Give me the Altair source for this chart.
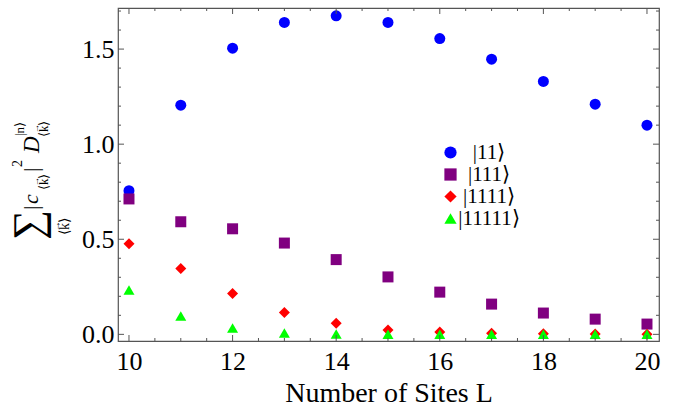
import altair as alt
import pandas as pd
import numpy as np

# ---- data ----
sites = [10, 11, 12, 13, 14, 15, 16, 17, 18, 19, 20]
s11 = [0.755, 1.205, 1.505, 1.64, 1.675, 1.64, 1.555, 1.447, 1.33, 1.21, 1.10]
s111 = [0.712, 0.592, 0.555, 0.48, 0.393, 0.302, 0.222, 0.159, 0.112, 0.08, 0.054]
s1111 = [0.476, 0.346, 0.215, 0.115, 0.058, 0.023, 0.012, 0.006, 0.003, 0.002, 0.001]
s11111 = [0.233, 0.096, 0.033, 0.007, 0.002, 0.001, 0.0, 0.0, 0.0, 0.0, 0.0]
series_names = ["|11⟩", "|111⟩", "|1111⟩", "|11111⟩"]
series_colors = ["#0000FF", "#800080", "#FF0000", "#00FF00"]
series_shapes = ["circle", "square", "diamond", "triangle-up"]

x_ticks = [10, 12, 14, 16, 18, 20]
y_ticks = [0.0, 0.5, 1.0, 1.5]

rows = []
for name, vals in zip(series_names, [s11, s111, s1111, s11111]):
    for L, v in zip(sites, vals):
        rows.append({"L": L, "val": v, "series": name})
df = pd.DataFrame(rows)

W, H = 541, 333
XDOM = [9.788, 20.232]
YDOM = [-0.035, 1.716]
FONT = "Liberation Serif"
FRAME = "#555555"

xs = alt.Scale(domain=XDOM, nice=False, zero=False)
ys = alt.Scale(domain=YDOM, nice=False, zero=False)

xaxis = alt.Axis(values=x_ticks, ticks=False, domain=False, grid=False,
                 labelFont=FONT, labelFontSize=26, labelColor="black",
                 labelPadding=7, title="Number of Sites L",
                 titleFont=FONT, titleFontSize=28, titleFontWeight="normal",
                 titleColor="black", titlePadding=5)
yaxis = alt.Axis(values=y_ticks, format=".1f", ticks=False, domain=False, grid=False,
                 labelFont=FONT, labelFontSize=26, labelColor="black",
                 labelPadding=4, title="")

legend_kw = dict(title=None, orient="none", legendX=322, legendY=134,
                 labelFont=FONT, labelFontSize=21, labelColor="black",
                 symbolSize=150, rowPadding=0, labelAlign="center",
                 labelOffset=28, symbolStrokeWidth=0)

points = alt.Chart(df).mark_point(filled=True, opacity=1, size=121).encode(
    x=alt.X("L:Q", scale=xs, axis=xaxis),
    y=alt.Y("val:Q", scale=ys, axis=yaxis),
    color=alt.Color("series:N",
                    scale=alt.Scale(domain=series_names, range=series_colors),
                    legend=alt.Legend(**legend_kw)),
    shape=alt.Shape("series:N",
                    scale=alt.Scale(domain=series_names, range=series_shapes),
                    legend=alt.Legend(**legend_kw)),
    order=alt.Order("order:Q"),
).transform_calculate(order="indexof(" + str(series_names).replace("'", '"') + ", datum.series)")

# ---- Mathematica-style inward frame ticks ----
x_minor = [float(v) for v in np.arange(10, 20.01, 0.5) if v not in x_ticks]
y_minor = [round(float(v), 1) for v in np.arange(0, 1.71, 0.1) if round(v, 1) not in y_ticks]

def xtick_layer(vals, length):
    d = pd.DataFrame({"L": vals})
    base = alt.Chart(d).mark_rule(color=FRAME, strokeWidth=1)
    xe = alt.X("L:Q", scale=xs, axis=xaxis)
    bottom = base.encode(x=xe, y=alt.value(H), y2=alt.value(H - length))
    top = base.encode(x=xe, y=alt.value(0), y2=alt.value(length))
    return [bottom, top]

def ytick_layer(vals, length):
    d = pd.DataFrame({"val": vals})
    base = alt.Chart(d).mark_rule(color=FRAME, strokeWidth=1)
    ye = alt.Y("val:Q", scale=ys, axis=yaxis)
    left = base.encode(y=ye, x=alt.value(0), x2=alt.value(length))
    right = base.encode(y=ye, x=alt.value(W), x2=alt.value(W - length))
    return [left, right]

ticks = (xtick_layer(x_ticks, 6) + xtick_layer(x_minor, 3)
         + ytick_layer(y_ticks, 6) + ytick_layer(y_minor, 3))

# ---- composite y-axis title (rotated), canvas coords -> plot coords ----
OX, OY = 118, 8
title_pieces = [
    # text, size, style, canvas x (baseline), canvas y (start)
    ("∑", 42, "normal", 42, 240),
    ("⟨k⟩", 14, "normal", 69, 235),
    ("→", 10, "normal", 60, 231),
    ("|", 22, "normal", 38, 210),
    ("c", 22, "italic", 38, 204),
    ("⟨k⟩", 13, "normal", 48, 190),
    ("→", 9, "normal", 39, 186),
    ("|", 22, "normal", 38, 172),
    ("2", 14, "normal", 22, 167),
    ("D", 23, "italic", 39, 153),
    ("|n⟩", 13, "normal", 24, 136),
    ("⟨k⟩", 13, "normal", 48, 137),
    ("→", 9, "normal", 39, 133),
]
one = pd.DataFrame({"a": [0]})
title_layers = []
for txt, size, style, cx, cy in title_pieces:
    title_layers.append(
        alt.Chart(one).mark_text(angle=270, align="left", baseline="alphabetic",
                                 font=FONT, fontSize=size, fontStyle=style,
                                 color="black", clip=False).encode(
            x=alt.value(cx - OX), y=alt.value(cy - OY), text=alt.value(txt))
    )

chart = alt.layer(points, *ticks, *title_layers).properties(
    width=W, height=H,
    autosize=alt.AutoSizeParams(type="none"),
    padding={"left": 118, "top": 8, "right": 17, "bottom": 69},
    background="white",
).configure(font=FONT).configure_axis(
    labelFont=FONT, titleFont=FONT
).configure_legend(labelFont=FONT).configure_view(stroke=FRAME, strokeWidth=1.2)

chart.save("out.html", embed_options={"renderer": "svg", "actions": False})
